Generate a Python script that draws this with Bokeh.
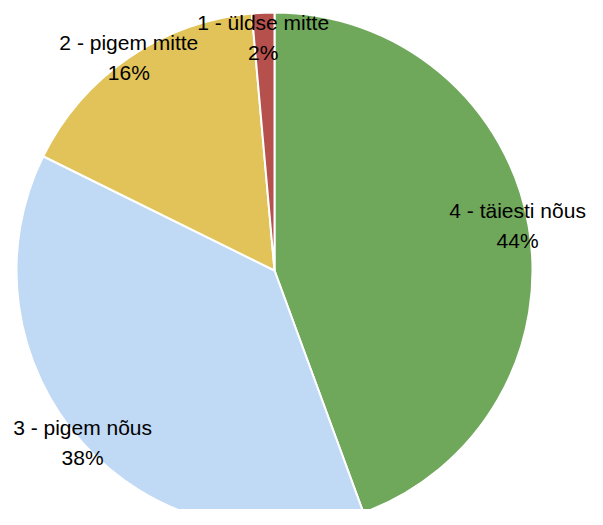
import math
from bokeh.plotting import figure
from bokeh.models import Range1d, ColumnDataSource
from bokeh.core.properties import value
from bokeh.embed import file_html
from bokeh.resources import INLINE

# Data (clockwise from 12 o'clock)
categories = ["4 - täiesti nõus", "3 - pigem nõus", "2 - pigem mitte", "1 - üldse mitte"]
shares = [44.4, 37.9, 16.3, 1.4]
pct_labels = ["44%", "38%", "16%", "2%"]
colors = ["#6fa75b", "#c0d9f4", "#e1c35a", "#b5504d"]

W, H = 587, 509
cx, cy, R = 274, H - 270, 258
FONT = "Liberation Sans"
FS = "21px"
CHAR_W = 0.41 * 21  # rough average glyph width for clamping

total = sum(shares)
starts, ends, lx, ly1, ly2 = [], [], [], [], []
cum = 0.0
for s, cat in zip(shares, categories):
    a0 = cum / total * 2 * math.pi
    cum += s
    a1 = cum / total * 2 * math.pi
    starts.append(math.pi / 2 - a1)
    ends.append(math.pi / 2 - a0)
    mid = (a0 + a1) / 2
    x = cx + R * math.sin(mid)
    y = cy + R * math.cos(mid)
    half = len(cat) * CHAR_W / 2
    x = min(max(x, half + 1), W - half - 1)  # keep label inside the canvas
    y = min(y, H - 37)
    lx.append(x)
    ly1.append(y + 15)
    ly2.append(y - 15)

src = ColumnDataSource(dict(start=starts, end=ends, color=colors, cat=categories,
                            pct=pct_labels, lx=lx, ly1=ly1, ly2=ly2))

p = figure(width=W, height=H, output_backend="svg", toolbar_location=None,
           x_range=Range1d(0, W), y_range=Range1d(0, H),
           x_axis_type=None, y_axis_type=None, min_border=0)
p.grid.visible = False
p.outline_line_color = None
p.background_fill_color = "white"

p.wedge(x=cx, y=cy, radius=R, start_angle="start", end_angle="end",
        direction="anticlock", fill_color="color", line_color="white",
        line_width=2, source=src)

p.text(x="lx", y="ly1", text="cat", source=src, text_align="center",
       text_baseline="middle", text_font=value(FONT), text_font_size=FS,
       text_color="black")
p.text(x="lx", y="ly2", text="pct", source=src, text_align="center",
       text_baseline="middle", text_font=value(FONT), text_font_size=FS,
       text_color="black")

open("out.html", "w").write(file_html(p, INLINE))
